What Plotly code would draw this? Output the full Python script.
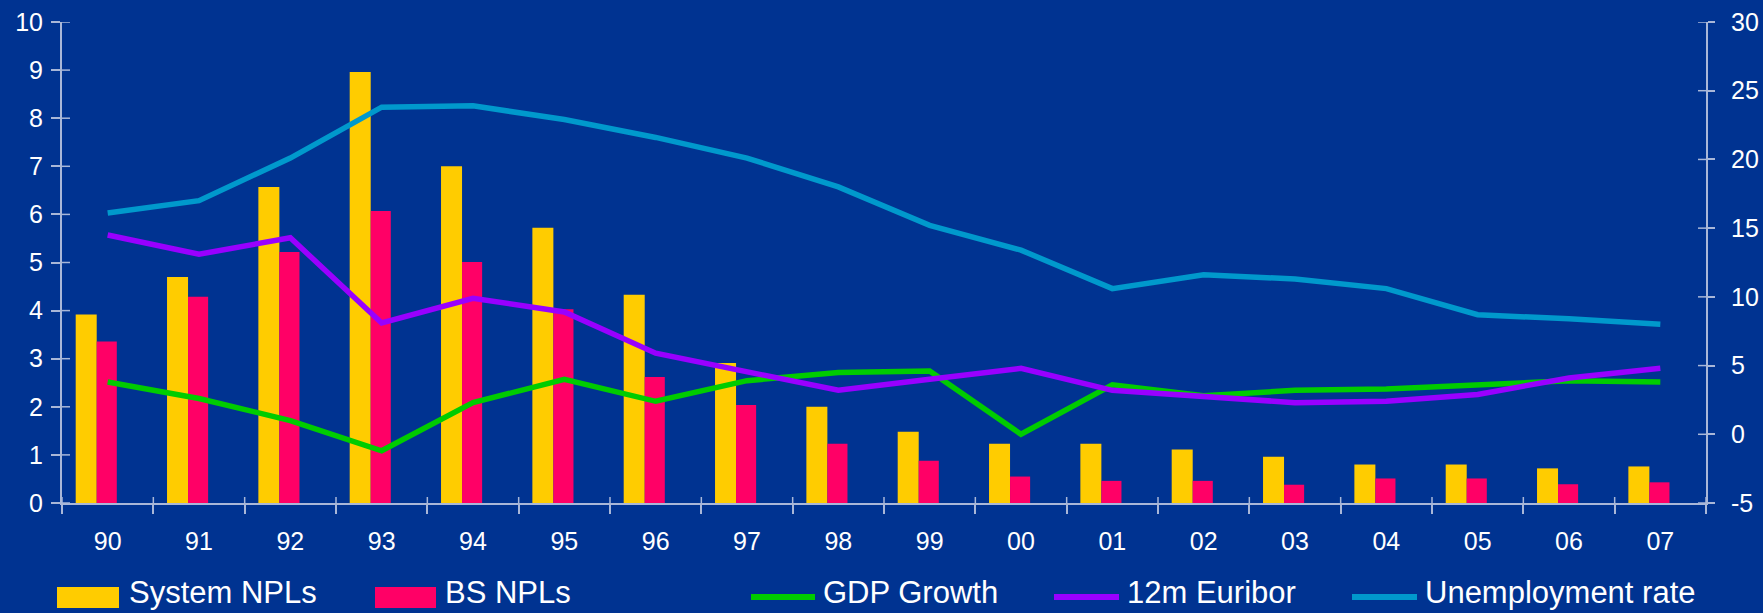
import plotly.graph_objects as go

# --- data -----------------------------------------------------------------
years = ["90", "91", "92", "93", "94", "95", "96", "97", "98", "99",
         "00", "01", "02", "03", "04", "05", "06", "07"]

system_npls = [3.92, 4.70, 6.57, 8.96, 7.00, 5.72, 4.33, 2.91, 2.00, 1.48,
               1.23, 1.23, 1.11, 0.96, 0.80, 0.80, 0.72, 0.76]
bs_npls = [3.36, 4.29, 5.22, 6.07, 5.01, 4.03, 2.62, 2.04, 1.23, 0.88,
           0.55, 0.46, 0.46, 0.38, 0.51, 0.51, 0.39, 0.43]

gdp_growth = [3.8, 2.6, 1.0, -1.2, 2.3, 4.0, 2.4, 3.9, 4.5, 4.6,
              0.0, 3.6, 2.8, 3.2, 3.3, 3.6, 3.9, 3.8]
euribor_12m = [14.5, 13.1, 14.3, 8.1, 9.9, 8.9, 5.9, 4.6, 3.2, 4.0,
               4.8, 3.2, 2.7, 2.3, 2.4, 2.9, 4.1, 4.8]
unemployment = [16.1, 17.0, 20.1, 23.8, 23.9, 22.9, 21.6, 20.1, 18.0, 15.2,
                 13.4, 10.6, 11.6, 11.3, 10.6, 8.7, 8.4, 8.0]

left_ticks = list(range(0, 11))
right_ticks = [-5, 0, 5, 10, 15, 20, 25, 30]
right_tick_text = [str(v) for v in right_ticks]

# --- styling ----------------------------------------------------------------
BG = "#003391"
AXIS = "#A9B7D8"
FONT = "Liberation Sans, Arial, sans-serif"
W, H = 1763, 613
ML, MR, MT, MB = 62, 57, 22, 110
PW, PH = W - ML - MR, H - MT - MB

C_SYS = "#FFCC00"
C_BS = "#FF0066"
C_GDP = "#00CC00"
C_EUR = "#9900FF"
C_UNE = "#0099CC"


def px_x(x):
    return (x - ML) / PW


def px_y(y):
    return (H - MB - y) / PH


fig = go.Figure()

fig.add_trace(go.Bar(x=years, y=system_npls, name="System NPLs",
                     marker=dict(color=C_SYS, line=dict(width=0)),
                     offset=-0.35, width=0.23, yaxis="y"))
fig.add_trace(go.Bar(x=years, y=bs_npls, name="BS NPLs",
                     marker=dict(color=C_BS, line=dict(width=0)),
                     offset=-0.12, width=0.22, yaxis="y"))

for name, vals, col in [("GDP Growth", gdp_growth, C_GDP),
                        ("12m Euribor", euribor_12m, C_EUR),
                        ("Unemployment rate", unemployment, C_UNE)]:
    fig.add_trace(go.Scatter(x=years, y=vals, name=name, mode="lines",
                             line=dict(color=col, width=5.5),
                             yaxis="y2"))

# inner halves of the crossing tick marks
shapes = []
for v in left_ticks:
    shapes.append(dict(type="line", xref="paper", yref="y",
                       x0=0, x1=8 / PW, y0=v, y1=v,
                       line=dict(color=AXIS, width=1.5)))
for v in right_ticks:
    shapes.append(dict(type="line", xref="paper", yref="y2",
                       x0=1 - 8 / PW, x1=1, y0=v, y1=v,
                       line=dict(color=AXIS, width=1.5)))
for i in range(len(years) + 1):
    shapes.append(dict(type="line", xref="x", yref="paper",
                       x0=i - 0.5, x1=i - 0.5, y0=0, y1=6 / PH,
                       line=dict(color=AXIS, width=1.5)))

# legend row along the bottom
annotations = []
legend_items = [
    ("rect", C_SYS, 57, 119, "System NPLs", 128),
    ("rect", C_BS, 375, 436, "BS NPLs", 444),
    ("line", C_GDP, 751, 815, "GDP Growth", 822),
    ("line", C_EUR, 1054, 1119, "12m Euribor", 1126),
    ("line", C_UNE, 1352, 1417, "Unemployment rate", 1424),
]
LEG_Y = 597
TEXT_Y = 592
for kind, col, x0, x1, label, tx in legend_items:
    if kind == "rect":
        shapes.append(dict(type="rect", xref="paper", yref="paper",
                           x0=px_x(x0), x1=px_x(x1),
                           y0=px_y(LEG_Y + 11), y1=px_y(LEG_Y - 10),
                           fillcolor=col, line=dict(width=0)))
    else:
        shapes.append(dict(type="line", xref="paper", yref="paper",
                           x0=px_x(x0), x1=px_x(x1),
                           y0=px_y(LEG_Y), y1=px_y(LEG_Y),
                           line=dict(color=col, width=6)))
    annotations.append(dict(xref="paper", yref="paper",
                            x=px_x(tx), y=px_y(TEXT_Y),
                            xanchor="left", yanchor="middle",
                            text=label, showarrow=False, borderpad=0,
                            font=dict(family=FONT, size=31, color="white")))

fig.update_layout(
    width=W, height=H,
    margin=dict(l=ML, r=MR, t=MT, b=MB, autoexpand=False),
    paper_bgcolor=BG, plot_bgcolor=BG,
    barmode="overlay", showlegend=False,
    font=dict(family=FONT, color="white", size=25),
    xaxis=dict(type="category", range=[-0.5, len(years) - 0.5],
               showgrid=False, zeroline=False,
               showline=True, linecolor=AXIS, linewidth=2,
               ticks="outside", tickson="boundaries", ticklen=9,
               tickwidth=1.5, tickcolor=AXIS, ticklabelstandoff=15,
               tickfont=dict(size=25, color="white")),
    yaxis=dict(range=[0, 10], tickvals=left_ticks,
               showgrid=False, zeroline=False,
               showline=True, linecolor=AXIS, linewidth=2,
               ticks="outside", ticklen=9, tickwidth=1.5, tickcolor=AXIS,
               ticklabelstandoff=3, tickfont=dict(size=25, color="white")),
    yaxis2=dict(range=[-5, 30], tickvals=right_ticks, ticktext=right_tick_text,
                overlaying="y", side="right",
                showgrid=False, zeroline=False,
                showline=True, linecolor=AXIS, linewidth=2,
                ticks="outside", ticklen=7, tickwidth=1.5, tickcolor=AXIS,
                ticklabelstandoff=11, tickfont=dict(size=25, color="white")),
    shapes=shapes,
    annotations=annotations,
)

fig.write_html("out.html")
